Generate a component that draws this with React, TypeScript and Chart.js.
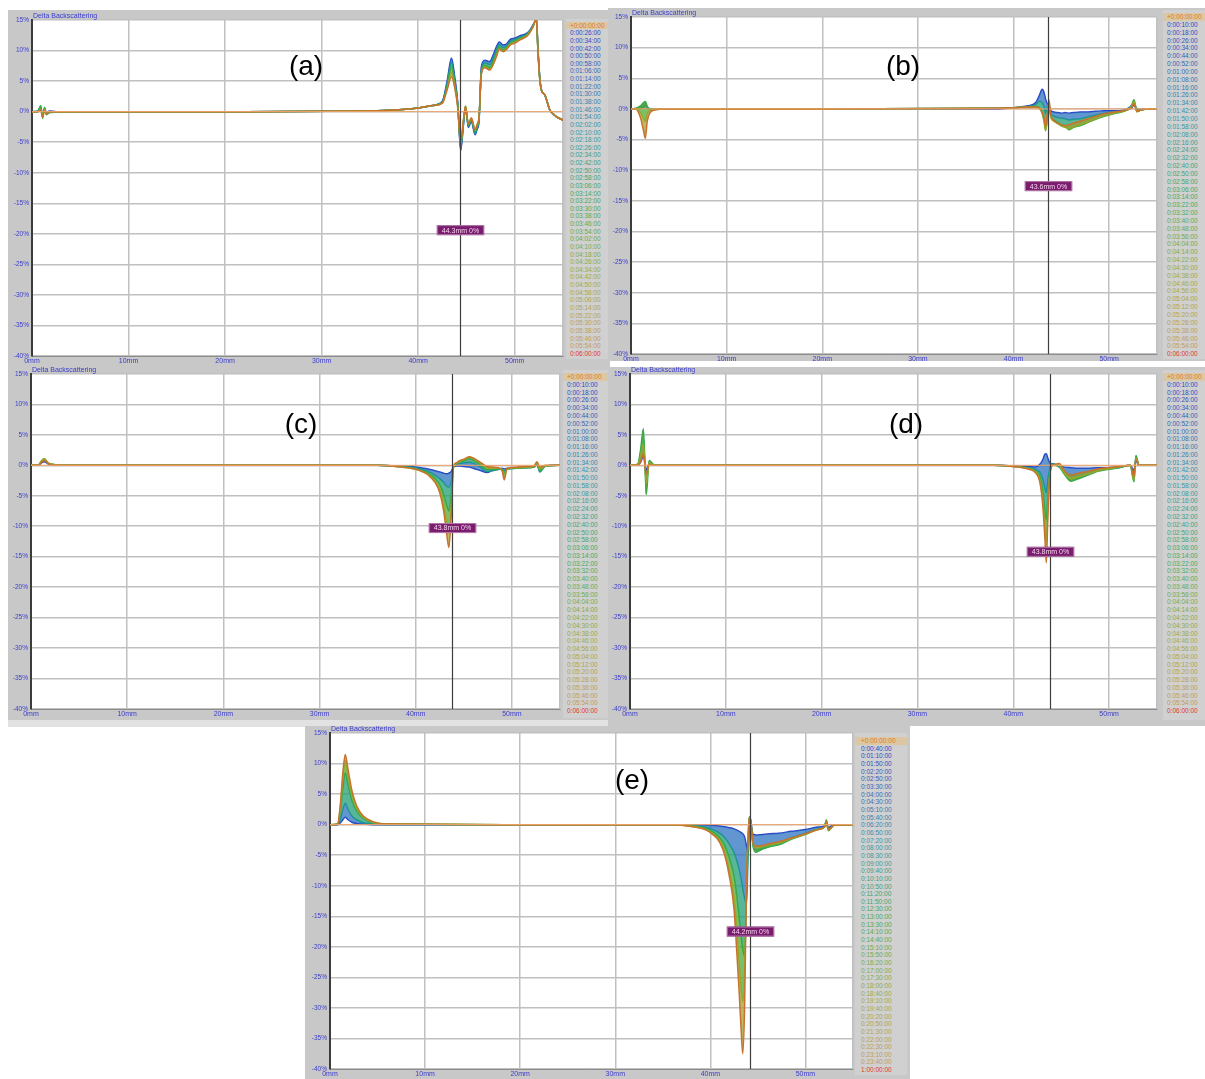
import { useEffect, useRef } from "react";
import { Chart, registerables } from "chart.js";

Chart.register(...registerables);

// ---------- data ----------
// (a)
const A_X = [0, 0.6, 0.9, 1.1, 1.3, 1.5, 1.8, 2.5, 5, 20,
  35, 38, 40, 41.5, 42.5, 43.0, 43.45, 43.8, 44.1, 44.4,
  44.7, 44.9, 45.2, 45.5, 45.9, 46.1, 46.3, 46.55, 46.9, 47.4,
  47.8, 48.1, 48.4, 48.8, 49.1, 49.6, 50.0, 50.5, 50.9, 51.3,
  51.55, 51.9, 52.1, 52.25, 52.4, 52.6, 52.8, 53.1, 53.4, 53.6,
  54.0, 54.3, 55];
const A_BLUE = [0, 0, 0.6, -0.5, 0.4, -0.2, 0.1, 0, 0, 0,
  0.1, 0.3, 0.6, 1.0, 1.7, 5.0, 8.8, 5.5, 1.5, -6.4,
  -2.0, 0.6, -2.6, -1.6, -3.8, -2.9, -1.6, 7.4, 8.4, 8.2,
  9.4, 10.6, 11.4, 10.9, 11.0, 11.9, 12.0, 12.4, 12.6, 12.9,
  13.3, 14.2, 14.8, 15.2, 10.5, 5.5, 3.4, 2.8, 1.4, 0.4,
  -0.4, -0.8, -1.4];
const A_TEAL = [0, 0.1, 0.8, -0.8, 0.6, -0.4, 0, -0.1, 0, 0,
  0.1, 0.3, 0.6, 1.0, 1.6, 4.6, 8.1, 5.0, 1.2, -6.0,
  -1.8, 0.8, -2.4, -1.4, -3.6, -2.7, -1.4, 6.9, 8.0, 7.7,
  8.9, 10.1, 11.0, 10.5, 10.7, 11.6, 11.8, 12.2, 12.4, 12.8,
  13.2, 14.1, 14.8, 15.2, 10.4, 5.4, 3.4, 2.8, 1.4, 0.4,
  -0.4, -0.8, -1.4];
const A_GREEN = [0, 0, 1.0, -1.1, 0.7, -0.5, -0.2, -0.1, 0, 0,
  0.1, 0.3, 0.6, 1.0, 1.5, 4.2, 7.3, 4.6, 1.0, -5.6,
  -1.5, 0.9, -2.2, -1.2, -3.3, -2.4, -1.2, 6.6, 7.6, 7.2,
  8.3, 9.5, 10.6, 10.1, 10.4, 11.3, 11.5, 12.0, 12.2, 12.6,
  13.1, 14.0, 14.8, 15.2, 10.2, 5.3, 3.3, 2.8, 1.4, 0.4,
  -0.4, -0.8, -1.4];
const A_OLIVE = [0, 0, 0.4, -0.6, 0.3, -0.3, 0, 0, 0, 0,
  0.1, 0.3, 0.6, 1.0, 1.4, 3.8, 6.4, 4.0, 0.8, -5.2,
  -1.3, 0.9, -2.0, -1.1, -3.0, -2.2, -1.0, 6.3, 7.3, 6.9,
  7.9, 9.1, 10.3, 9.9, 10.2, 11.1, 11.3, 11.8, 12.1, 12.5,
  13.0, 13.9, 14.8, 15.2, 10.1, 5.2, 3.3, 2.8, 1.4, 0.4,
  -0.4, -0.8, -1.4];
const A_ORANGE = [0, 0, 0.3, -0.9, 0.2, -0.4, 0, 0, 0, 0,
  0.1, 0.3, 0.6, 1.0, 1.4, 3.6, 5.7, 3.8, 0.6, -5.0,
  -1.2, 0.9, -2.0, -1.0, -2.9, -2.1, -0.9, 6.2, 7.2, 6.8,
  7.8, 9.0, 10.2, 9.8, 10.1, 11.0, 11.2, 11.7, 12.0, 12.4,
  12.9, 13.9, 14.8, 15.2, 10.0, 5.1, 3.3, 2.8, 1.4, 0.4,
  -0.4, -0.8, -1.4];

// (b)
const B_X = [0, 0.5, 1.0, 1.3, 1.5, 1.7, 2.0, 2.5, 3.5, 5,
  20, 38, 40, 41.5, 42.3, 42.7, 43.0, 43.2, 43.35, 43.55,
  43.7, 43.9, 44.2, 44.6, 45.0, 45.4, 45.8, 46.3, 47.0, 47.8,
  48.6, 49.5, 50.5, 51.5, 52.3, 52.6, 52.9, 53.3, 54, 55];
const B_BLUE = [0, 0, 0.1, 0.3, 0.5, 0.2, 0, 0, 0, 0,
  0, 0, 0.2, 0.5, 1.0, 2.2, 3.2, 2.6, 1.6, 0.8,
  0.5, -0.3, -0.5, -0.6, -0.7, -0.6, -0.7, -0.6, -0.5, -0.5,
  -0.4, -0.3, -0.3, -0.2, 0.1, 0.6, 0, -0.1, 0, 0];
const B_TEAL = [0, 0, 0.2, 0.6, 0.9, 0.3, 0, 0, 0, 0,
  0, 0.1, 0.2, 0.4, 0.7, 1.2, 1.0, 0.3, -0.8, 0.5,
  0.2, -0.8, -1.2, -1.4, -1.5, -1.6, -1.8, -1.7, -1.6, -1.3,
  -1.0, -0.7, -0.5, -0.3, 0.5, 1.0, -0.2, -0.1, 0, 0];
const B_GREEN = [0, 0.1, 0.5, 1.0, 1.2, 0.4, -0.2, 0, 0, 0,
  0, 0.1, 0.2, 0.3, 0.4, 0.2, -0.6, -1.8, -3.4, -1.5,
  0.4, -1.3, -1.8, -2.2, -2.6, -2.8, -3.4, -3.0, -2.7, -2.2,
  -1.7, -1.2, -0.8, -0.4, 0.4, 1.5, -0.4, -0.2, 0, 0];
const B_OLIVE = [0, 0, -0.6, -1.6, -2.0, -0.8, -0.2, 0, 0, 0,
  0, 0.1, 0.2, 0.3, 0.3, 0.1, -0.8, -2.2, -3.6, -1.2,
  1.0, -1.4, -2.0, -2.4, -2.8, -3.0, -3.2, -2.9, -2.6, -2.1,
  -1.6, -1.1, -0.7, -0.4, 0.3, 1.2, -0.5, -0.2, 0, 0];
const B_ORANGE = [0, 0, -1.5, -3.5, -4.8, -2.0, -0.6, -0.2, 0, 0,
  0, 0.1, 0.2, 0.3, 0.3, 0.1, -0.6, -1.6, -2.8, -0.5,
  1.5, -1.0, -1.8, -2.3, -2.6, -2.7, -2.6, -2.3, -2.0, -1.6,
  -1.2, -0.8, -0.5, -0.3, 0.2, 0.8, -0.4, -0.2, 0, 0];

// (c)
const C_X = [0, 0.8, 1.1, 1.4, 1.8, 2.5, 4, 20, 36, 38,
  39.5, 40.5, 41.3, 42.0, 42.5, 42.9, 43.2, 43.45, 43.7, 43.9,
  44.2, 44.6, 45.0, 45.6, 46.2, 46.8, 47.4, 48.0, 48.6, 49.0,
  49.2, 49.5, 50.5, 51.5, 52.3, 52.6, 52.9, 53.5, 55];
const C_BLUE = [0, 0, 0.4, 0.6, 0.2, 0, 0, 0, 0, -0.1,
  -0.2, -0.4, -0.6, -0.9, -1.1, -1.3, -1.4, -1.3, -1.0, -0.3,
  -0.1, -0.1, -0.2, -0.3, -0.6, -0.9, -1.2, -0.8, -0.6, -0.5,
  -0.6, -0.5, -0.4, -0.3, -0.2, 0.1, -0.8, -0.1, 0];
const C_TEAL = [0, 0.1, 0.6, 0.8, 0.3, 0.1, 0, 0, 0, -0.1,
  -0.3, -0.6, -1.0, -1.6, -2.2, -2.8, -3.4, -3.6, -2.6, -0.4,
  0.1, 0.3, 0.4, 0.5, 0.2, -0.4, -1.0, -0.9, -0.7, -0.6,
  -0.8, -0.6, -0.5, -0.4, -0.3, 0.2, -1.1, -0.1, 0];
const C_GREEN = [0, 0.1, 0.7, 1.0, 0.3, 0.1, 0, 0, 0, -0.2,
  -0.4, -0.8, -1.3, -2.2, -3.2, -4.8, -6.5, -7.5, -4.5, -0.5,
  0.2, 0.6, 0.7, 1.1, 0.6, 0.0, -0.7, -0.7, -0.6, -0.7,
  -1.2, -0.6, -0.5, -0.4, -0.3, 0.3, -0.9, -0.1, 0];
const C_OLIVE = [0, 0.1, 0.8, 1.1, 0.4, 0.1, 0, 0, 0, -0.2,
  -0.5, -0.9, -1.5, -2.6, -4.0, -6.4, -9.0, -11.0, -6.5, -0.6,
  0.3, 0.7, 0.9, 1.3, 0.9, 0.3, -0.4, -0.5, -0.5, -0.8,
  -1.8, -0.6, -0.4, -0.3, -0.2, 0.5, -0.6, -0.1, 0];
const C_ORANGE = [0, 0, 0.5, 0.8, 0.3, 0, 0, 0, 0, -0.2,
  -0.5, -0.9, -1.6, -2.8, -4.5, -7.5, -11.0, -13.5, -8.0, -0.5,
  0.4, 0.8, 1.0, 1.4, 1.0, 0.4, -0.2, -0.3, -0.4, -1.0,
  -2.4, -0.5, -0.3, -0.2, -0.1, 0.6, -0.3, 0, 0];

// (d)
const D_X = [0, 0.8, 1.1, 1.4, 1.7, 2.0, 2.4, 3.0, 4.0, 20,
  38, 40, 41.5, 42.3, 42.8, 43.1, 43.3, 43.45, 43.6, 43.8,
  44.1, 44.5, 44.8, 45.3, 46.0, 46.8, 47.8, 48.8, 49.8, 51.0,
  52.2, 52.6, 52.8, 53.1, 53.6, 55];
const D_BLUE = [0, 0, 0.5, 1.5, -0.8, 0.3, 0, 0, 0, 0,
  0, -0.1, -0.2, -0.3, 0.2, 1.0, 1.8, 1.9, 1.2, 0.4,
  0.2, 0.1, -0.1, -0.3, -0.4, -0.5, -0.5, -0.4, -0.4, -0.3,
  0, -0.8, 0.8, 0, 0, 0];
const D_TEAL = [0, 0.1, 1.5, 3.5, -2.5, 0.5, 0.1, 0, 0, 0,
  0, -0.1, -0.4, -0.7, -1.2, -2.4, -3.8, -4.5, -2.5, -0.6,
  0.3, 0.0, -0.3, -1.0, -1.8, -1.6, -1.2, -0.8, -0.6, -0.4,
  0, -1.5, 1.4, 0.1, 0, 0];
const D_GREEN = [0, 0.2, 2.5, 6.0, -4.8, 0.8, 0.2, 0, 0, 0,
  0, -0.2, -0.5, -0.9, -2.0, -4.5, -7.5, -9.0, -5.5, -1.4,
  0.1, 0.0, -0.2, -1.4, -2.6, -2.2, -1.6, -1.0, -0.7, -0.4,
  0, -2.7, 1.6, 0.1, 0, 0];
const D_OLIVE = [0, 0.1, 1.5, 3.5, -3.0, 0.4, 0.1, 0, 0, 0,
  0, -0.2, -0.5, -1.0, -2.6, -6.0, -10.0, -12.5, -7.5, -1.8,
  0.0, 0.1, 0.0, -1.2, -2.2, -1.9, -1.4, -0.9, -0.6, -0.3,
  0, -2.4, 1.2, 0.1, 0, 0];
const D_ORANGE = [0, 0, 0.6, 1.8, -1.5, 0.2, 0, 0, 0, 0,
  0, -0.2, -0.6, -1.2, -3.0, -7.0, -12.0, -16.0, -9.0, -2.0,
  0.0, 0.2, 0.3, -0.8, -1.6, -1.3, -1.0, -0.6, -0.4, -0.2,
  0, -1.8, 1.0, 0.1, 0, 0];

// (e)
const E_X = [0, 0.8, 1.1, 1.35, 1.6, 1.9, 2.3, 2.8, 3.5, 4.5,
  6, 20, 36, 38, 39.9, 41.3, 42.0, 42.5, 42.8, 43.05,
  43.25, 43.4, 43.6, 43.8, 44.0, 44.1, 44.25, 44.5, 44.8, 45.5,
  46.3, 47.2, 48.5, 50.0, 51.3, 52.0, 52.2, 52.4, 53.0, 54.0,
  55];
const E_BLUE = [0, 0, 0.3, 0.8, 1.2, 0.8, 0.4, 0.2, 0.1, 0,
  0, 0, 0, 0, -0.1, -0.3, -0.5, -0.7, -0.9, -1.1,
  -1.3, -1.5, -2.0, -3.5, -5.0, 1.0, 0.4, -1.6, -1.7, -1.6,
  -1.5, -1.4, -1.1, -0.8, -0.4, -0.2, 0.4, -0.5, 0, 0,
  0];
const E_TEAL = [0, 0, 1.0, 2.5, 3.5, 2.5, 1.4, 0.8, 0.3, 0.1,
  0, 0, 0, -0.1, -0.6, -1.8, -3.2, -4.6, -6.0, -7.5,
  -9.0, -10.5, -12.0, -13.0, -3.0, 1.3, 0.6, -3.4, -4.2, -3.8,
  -3.4, -3.0, -2.2, -1.4, -0.7, -0.4, 0.6, -0.8, -0.1, 0,
  0];
const E_GREEN = [0, 0.1, 2.5, 6.0, 8.5, 6.5, 4.0, 2.2, 1.0, 0.3,
  0.1, 0, 0, -0.2, -0.9, -2.8, -5.5, -8.5, -12.0, -15.5,
  -18.5, -20.5, -21.5, -12.0, -1.5, 1.3, 0.6, -3.6, -4.5, -4.0,
  -3.6, -3.3, -2.4, -1.6, -0.8, -0.4, 0.8, -1.0, -0.1, 0,
  0];
const E_OLIVE = [0, 0.1, 3.0, 7.5, 10.5, 8.0, 5.0, 2.8, 1.2, 0.4,
  0.1, 0, 0, -0.3, -1.1, -3.6, -7.5, -12.0, -17.5, -23.0,
  -27.0, -29.0, -24.0, -9.0, -1.0, 1.2, 0.5, -3.2, -3.8, -3.6,
  -3.3, -3.0, -2.3, -1.6, -0.8, -0.4, 0.6, -0.9, -0.1, 0,
  0];
const E_ORANGE = [0, 0.1, 3.5, 8.5, 11.5, 9.0, 5.6, 3.1, 1.4, 0.5,
  0.1, 0, 0, -0.3, -1.2, -4.0, -8.5, -14.0, -21.4, -28.0,
  -34.0, -37.5, -30.0, -10.0, -1.0, 1.2, 0.5, -3.0, -3.5, -3.4,
  -3.1, -2.8, -2.2, -1.5, -0.8, -0.4, 0.5, -0.8, -0.1, 0,
  0];

// scan times shown in each panel's side list
const TIMES_A = ("+0:00:00:00 0:00:26:00 0:00:34:00 0:00:42:00 0:00:50:00 0:00:58:00 0:01:06:00 0:01:14:00 " +
  "0:01:22:00 0:01:30:00 0:01:38:00 0:01:46:00 0:01:54:00 0:02:02:00 0:02:10:00 0:02:18:00 0:02:26:00 " +
  "0:02:34:00 0:02:42:00 0:02:50:00 0:02:58:00 0:03:06:00 0:03:14:00 0:03:22:00 0:03:30:00 0:03:38:00 " +
  "0:03:46:00 0:03:54:00 0:04:02:00 0:04:10:00 0:04:18:00 0:04:26:00 0:04:34:00 0:04:42:00 0:04:50:00 " +
  "0:04:58:00 0:05:06:00 0:05:14:00 0:05:22:00 0:05:30:00 0:05:38:00 0:05:46:00 0:05:54:00 0:06:00:00").split(" ");
const TIMES_BCD = ("+0:00:00:00 0:00:10:00 0:00:18:00 0:00:26:00 0:00:34:00 0:00:44:00 0:00:52:00 0:01:00:00 " +
  "0:01:08:00 0:01:16:00 0:01:26:00 0:01:34:00 0:01:42:00 0:01:50:00 0:01:58:00 0:02:08:00 0:02:16:00 " +
  "0:02:24:00 0:02:32:00 0:02:40:00 0:02:50:00 0:02:58:00 0:03:06:00 0:03:14:00 0:03:22:00 0:03:32:00 " +
  "0:03:40:00 0:03:48:00 0:03:56:00 0:04:04:00 0:04:14:00 0:04:22:00 0:04:30:00 0:04:38:00 0:04:46:00 " +
  "0:04:56:00 0:05:04:00 0:05:12:00 0:05:20:00 0:05:28:00 0:05:38:00 0:05:46:00 0:05:54:00 0:06:00:00").split(" ");
const TIMES_E = ("+0:00:00:00 0:00:40:00 0:01:10:00 0:01:50:00 0:02:20:00 0:02:50:00 0:03:30:00 0:04:00:00 " +
  "0:04:30:00 0:05:10:00 0:05:40:00 0:06:20:00 0:06:50:00 0:07:20:00 0:08:00:00 0:08:30:00 0:09:00:00 " +
  "0:09:40:00 0:10:10:00 0:10:50:00 0:11:20:00 0:11:50:00 0:12:30:00 0:13:00:00 0:13:30:00 0:14:10:00 " +
  "0:14:40:00 0:15:10:00 0:15:50:00 0:16:20:00 0:17:00:00 0:17:30:00 0:18:00:00 0:18:40:00 0:19:10:00 " +
  "0:19:40:00 0:20:20:00 0:20:50:00 0:21:30:00 0:22:00:00 0:22:30:00 0:23:10:00 0:23:40:00 1:00:00:00").split(" ");

const X_TICK_LABELS = ["0mm", "10mm", "20mm", "30mm", "40mm", "50mm"];
const Y_TICK_LABELS = ["-40%", "-35%", "-30%", "-25%", "-20%", "-15%", "-10%", "-5%", "0%", "5%", "10%", "15%"];

// ---------- styling ----------
const FONT = "'Liberation Sans', Arial, sans-serif";
const AXIS_BLUE = "#3a3ccc";
const GRID = "#c0c0c0";
const FRAME_GRAY = "#c8c8c8";
const LIST_GRAY = "#d0d0d0";
const SERIES_COLORS = ["#2b3ec6", "#1f8fa6", "#2fa84c", "#93ad2b", "#c9722d"];
const BAND_COLORS = ["", "rgba(36,110,190,0.72)", "rgba(34,158,118,0.75)", "rgba(80,170,56,0.75)", "rgba(160,160,46,0.72)"];
const ZERO_COLOR = "#f2a66b";

type Box = [number, number, number, number];
type PanelSpec = {
  letter: string;
  letterAt: [number, number];
  frame: Box;
  canvas: Box;
  plot: { l: number; t: number; r: number; b: number };
  xs: number[];
  series: number[][];
  cursor: number;
  tag: string;
  tagY: number;
  list: { x: number; y: number; w: number; h: number; first: number; step: number; pad: number; labels: string[] };
  strip?: Box;
};

const PANELS: PanelSpec[] = [
  {
    letter: "(a)", letterAt: [306, 66],
    frame: [8, 10, 602, 358], canvas: [8, 10, 558, 357],
    plot: { l: 32, t: 20, r: 563, b: 356 },
    xs: A_X, series: [A_BLUE, A_TEAL, A_GREEN, A_OLIVE, A_ORANGE],
    cursor: 44.3, tag: "44.3mm 0%", tagY: -19.4,
    list: { x: 566, y: 19, w: 43, h: 340, first: 25.5, step: 7.63, pad: 4, labels: TIMES_A },
  },
  {
    letter: "(b)", letterAt: [903, 66],
    frame: [608, 8, 597, 353], canvas: [608, 8, 554, 353],
    plot: { l: 631, t: 17, r: 1157, b: 354 },
    xs: B_X, series: [B_BLUE, B_TEAL, B_GREEN, B_OLIVE, B_ORANGE],
    cursor: 43.6, tag: "43.6mm 0%", tagY: -12.6,
    list: { x: 1163, y: 10, w: 42, h: 349, first: 17, step: 7.84, pad: 4, labels: TIMES_BCD },
  },
  {
    letter: "(c)", letterAt: [301, 424],
    frame: [8, 367, 602, 360], canvas: [8, 367, 555, 353],
    plot: { l: 31, t: 372, r: 560, b: 709 },
    xs: C_X, series: [C_BLUE, C_TEAL, C_GREEN, C_OLIVE, C_ORANGE],
    cursor: 43.8, tag: "43.8mm 0%", tagY: -10.3,
    list: { x: 563, y: 370, w: 47, h: 348, first: 377, step: 7.77, pad: 4, labels: TIMES_BCD },
    strip: [8, 720, 602, 7],
  },
  {
    letter: "(d)", letterAt: [906, 424],
    frame: [608, 367, 597, 359], canvas: [608, 367, 554, 357],
    plot: { l: 630, t: 372, r: 1157, b: 709 },
    xs: D_X, series: [D_BLUE, D_TEAL, D_GREEN, D_OLIVE, D_ORANGE],
    cursor: 43.8, tag: "43.8mm 0%", tagY: -14.2,
    list: { x: 1163, y: 370, w: 42, h: 350, first: 377, step: 7.77, pad: 4, labels: TIMES_BCD },
  },
  {
    letter: "(e)", letterAt: [632, 780],
    frame: [305, 726, 605, 353], canvas: [305, 726, 550, 353],
    plot: { l: 330, t: 733, r: 853, b: 1069 },
    xs: E_X, series: [E_BLUE, E_TEAL, E_GREEN, E_OLIVE, E_ORANGE],
    cursor: 44.2, tag: "44.2mm 0%", tagY: -17.5,
    list: { x: 855, y: 733, w: 52, h: 342, first: 741, step: 7.65, pad: 6, labels: TIMES_E },
  },
];

// colour ramp of the time list: blue -> teal -> green -> olive -> tan
const RAMP: [number, [number, number, number]][] = [
  [0, [46, 70, 200]],
  [0.3, [52, 150, 170]],
  [0.55, [66, 172, 88]],
  [0.8, [160, 172, 64]],
  [1, [196, 154, 96]],
];
function rampColor(t: number) {
  for (let i = 1; i < RAMP.length; i++) {
    if (t <= RAMP[i][0]) {
      const [t0, c0] = RAMP[i - 1];
      const [t1, c1] = RAMP[i];
      const f = (t - t0) / (t1 - t0);
      const c = c0.map((v, k) => Math.round(v + (c1[k] - v) * f));
      return `rgb(${c[0]},${c[1]},${c[2]})`;
    }
  }
  return "rgb(196,154,96)";
}

function Panel({ spec }: { spec: PanelSpec }) {
  const ref = useRef<HTMLCanvasElement>(null);

  useEffect(() => {
    const canvas = ref.current;
    if (!canvas) return;
    const [cx, cy, cw, ch] = spec.canvas;
    const { l, t, r, b } = spec.plot;
    const yAxisW = l - cx;
    const xAxisH = cy + ch - b;

    const deco = {
      id: "deco",
      beforeDraw(chart: any) {
        const { ctx, chartArea: a } = chart;
        ctx.save();
        ctx.fillStyle = "#ffffff";
        ctx.fillRect(a.left, a.top, a.right - a.left, a.bottom - a.top);
        ctx.restore();
      },
      afterDatasetsDraw(chart: any) {
        const { ctx, chartArea: a, scales } = chart;
        const px = Math.round(scales.x.getPixelForValue(spec.cursor)) + 0.5;
        ctx.save();
        ctx.strokeStyle = "#3e3e3e";
        ctx.lineWidth = 1.2;
        ctx.beginPath();
        ctx.moveTo(px, a.top);
        ctx.lineTo(px, a.bottom);
        ctx.stroke();

        ctx.font = `7px ${FONT}`;
        const w = ctx.measureText(spec.tag).width + 10;
        const h = 10;
        const py = scales.y.getPixelForValue(spec.tagY);
        ctx.fillStyle = "#7a1d6e";
        ctx.fillRect(px - w / 2, py - h / 2, w, h);
        ctx.strokeStyle = "#b27aa8";
        ctx.lineWidth = 1;
        ctx.strokeRect(px - w / 2 + 0.5, py - h / 2 + 0.5, w - 1, h - 1);
        ctx.fillStyle = "#f5d4ec";
        ctx.textAlign = "center";
        ctx.textBaseline = "middle";
        ctx.fillText(spec.tag, px, py + 0.5);

        ctx.font = `7px ${FONT}`;
        ctx.fillStyle = AXIS_BLUE;
        ctx.textAlign = "left";
        ctx.textBaseline = "middle";
        ctx.fillText("Delta Backscattering", a.left + 1, a.top - 4);
        ctx.restore();
      },
    };

    const order = spec.series.length;
    const datasets: any[] = [
      {
        data: [{ x: 0, y: 0 }, { x: 55, y: 0 }],
        borderColor: ZERO_COLOR,
        borderWidth: 1,
        pointRadius: 0,
        fill: false,
        order: 0,
      },
      ...spec.series.map((ys, i) => ({
        data: spec.xs.map((x, j) => ({ x, y: ys[j] })),
        borderColor: SERIES_COLORS[i],
        backgroundColor: BAND_COLORS[i] || "transparent",
        // each later scan fills the band back to the scan before it
        fill: i === 0 ? false : "-1",
        borderWidth: 1.5,
        pointRadius: 0,
        cubicInterpolationMode: "monotone",
        order: order - i,
      })),
    ];

    const chart = new Chart(canvas, {
      type: "line",
      data: { datasets },
      options: {
        responsive: false,
        animation: false,
        events: [],
        layout: { padding: { top: t - cy, right: cx + cw - r, left: 0, bottom: 0 } },
        plugins: {
          legend: { display: false },
          tooltip: { enabled: false },
          title: { display: false },
          filler: { propagate: false },
        },
        scales: {
          x: {
            type: "linear",
            min: 0,
            max: 55,
            afterFit: (s: any) => { s.height = xAxisH; },
            ticks: {
              stepSize: 10,
              autoSkip: false,
              maxRotation: 0,
              padding: 1,
              color: AXIS_BLUE,
              font: { size: 7, family: FONT },
              callback: (v: any) => (Number(v) % 10 === 0 ? X_TICK_LABELS[Number(v) / 10] : ""),
            },
            grid: { color: GRID, lineWidth: 1.5, drawTicks: false },
            border: { color: "#8c8c8c", width: 1 },
          },
          y: {
            type: "linear",
            min: -40,
            max: 15,
            afterFit: (s: any) => { s.width = yAxisW; },
            ticks: {
              stepSize: 5,
              autoSkip: false,
              padding: 3,
              color: AXIS_BLUE,
              font: { size: 6.5, family: FONT },
              callback: (v: any) => Y_TICK_LABELS[(Number(v) + 40) / 5] ?? "",
            },
            grid: { color: GRID, lineWidth: 1.5, drawTicks: false },
            border: { color: "#3c3c3c", width: 2 },
          },
        },
      },
      plugins: [deco],
    } as any);
    return () => chart.destroy();
  }, [spec]);

  const [fx, fy, fw, fh] = spec.frame;
  const [cx, cy, cw, ch] = spec.canvas;
  const L = spec.list;
  const n = L.labels.length;
  return (
    <>
      <div style={{ position: "absolute", left: fx, top: fy, width: fw, height: fh, background: FRAME_GRAY }} />
      {spec.strip && (
        <div style={{ position: "absolute", left: spec.strip[0], top: spec.strip[1], width: spec.strip[2], height: spec.strip[3], background: "#e2e2e2" }} />
      )}
      <canvas
        ref={ref}
        width={cw}
        height={ch}
        style={{ position: "absolute", left: cx, top: cy, width: cw, height: ch }}
      />
      <div style={{ position: "absolute", left: L.x, top: L.y, width: L.w, height: L.h, background: LIST_GRAY, overflow: "hidden" }}>
        {L.labels.map((s, i) => {
          const first = i === 0;
          const last = i === n - 1;
          const color = first ? "#e07a22" : last ? "#e23a2a" : rampColor((i - 1) / (n - 3));
          return (
            <div
              key={i}
              style={{
                position: "absolute",
                left: 0,
                top: L.first - L.y + i * L.step - L.step / 2,
                width: L.w,
                height: L.step,
                lineHeight: `${L.step}px`,
                boxSizing: "border-box",
                paddingLeft: L.pad,
                fontFamily: FONT,
                fontSize: 6.5,
                color,
                whiteSpace: "nowrap",
                background: first ? "#dcc7a4" : undefined,
              }}
            >
              {s}
            </div>
          );
        })}
      </div>
      <div
        style={{
          position: "absolute",
          left: spec.letterAt[0],
          top: spec.letterAt[1],
          transform: "translate(-50%, -50%)",
          fontFamily: FONT,
          fontSize: 28,
          color: "#000",
          lineHeight: 1,
          whiteSpace: "nowrap",
        }}
      >
        {spec.letter}
      </div>
    </>
  );
}

export default function App() {
  return (
    <div style={{ position: "absolute", left: 0, top: 0, width: 1205, height: 1079, background: "#ffffff", overflow: "hidden" }}>
      {PANELS.map((p) => (
        <Panel key={p.letter} spec={p} />
      ))}
    </div>
  );
}
